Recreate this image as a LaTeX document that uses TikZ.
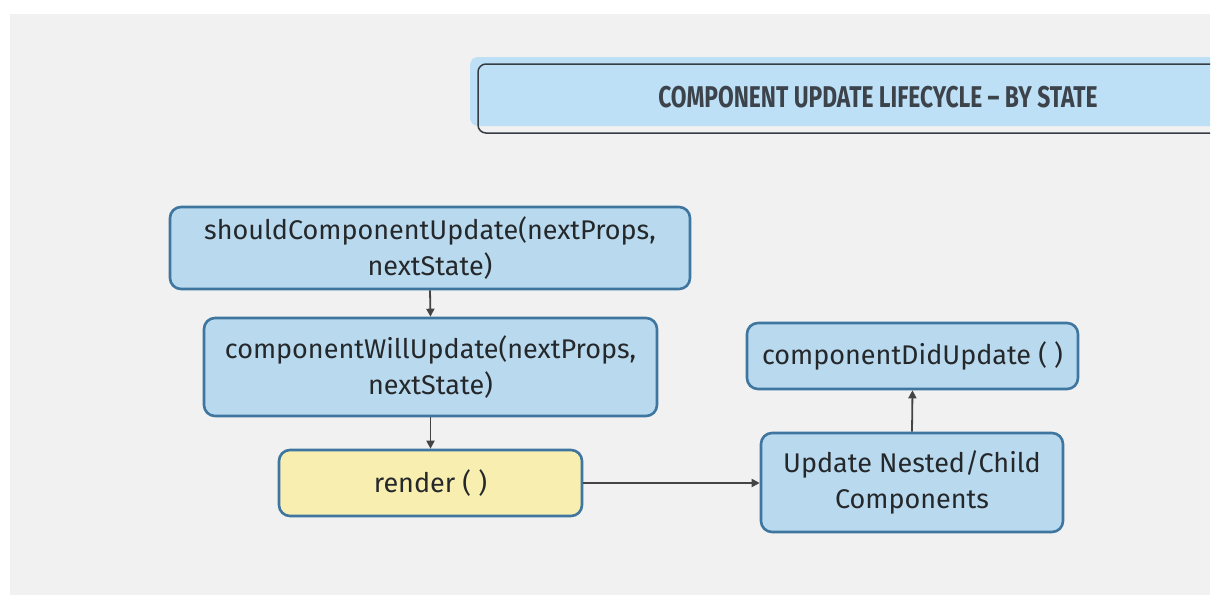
\documentclass[tikz,border=0pt]{standalone}
\usepackage{fontspec}
\setmainfont{Fira Sans}
\usetikzlibrary{arrows.meta}
\definecolor{paper}{HTML}{F1F1F1}
\definecolor{boxblue}{HTML}{B9D9EE}
\definecolor{boxedge}{HTML}{3E76A0}
\definecolor{boxyellow}{HTML}{F8EEB0}
\definecolor{titleblue}{HTML}{BEE0F7}
\definecolor{titletext}{HTML}{3C434B}
\definecolor{arrowgray}{HTML}{444444}
\definecolor{txt}{HTML}{25282B}
\tikzset{
  stagebox/.style={draw=boxedge, line width=2.6pt, fill=boxblue, rounded corners=11pt,
    align=center, text=txt, font=\fontsize{27}{36}\selectfont, inner sep=0pt},
  flowarrow/.style={draw=arrowgray, line width=1.8pt, -{Triangle[length=8pt,width=8pt]}}
}
\begin{document}
\begin{tikzpicture}[x=1pt,y=-1pt]
\useasboundingbox (0,0) rectangle (1229,595);
\fill[white] (0,0) rectangle (1229,595);
\fill[paper] (10,14) rectangle (1210,595);
% title banner
\begin{scope}
\clip (10,14) rectangle (1210,595);
\fill[titleblue, rounded corners=8pt] (470,57) rectangle (1230,126);
\draw[titletext!90!black, line width=1.5pt, rounded corners=8pt] (478,64) rectangle (1240,133);
\end{scope}
\node[text=titletext, font=\fontsize{30}{30}\selectfont\bfseries] (title) at (878,97)
  {\scalebox{0.76}[1]{COMPONENT UPDATE LIFECYCLE – BY STATE}};
% boxes
\node[stagebox, minimum width=520pt, minimum height=82pt] (should) at (430,248)
  {shouldComponentUpdate(nextProps,\\nextState)};
\node[stagebox, minimum width=453pt, minimum height=98pt] (will) at (430.5,367)
  {componentWillUpdate(nextProps,\\nextState)};
\node[stagebox, fill=boxyellow, minimum width=303pt, minimum height=66pt] (render) at (430.5,483)
  {render ( )};
\node[stagebox, minimum width=331pt, minimum height=66pt] (did) at (912.5,356)
  {componentDidUpdate ( )};
\node[stagebox, minimum width=302pt, minimum height=99pt] (nested) at (912,482.5)
  {Update Nested/Child\\Components};
% connectors
\draw[flowarrow] (should.south) -- (will.north);
\draw[flowarrow] (will.south) -- (render.north);
\draw[flowarrow] (render.east) -- (render.east -| nested.west);
\draw[flowarrow] (nested.north) -- (did.south);
\end{tikzpicture}
\end{document}
